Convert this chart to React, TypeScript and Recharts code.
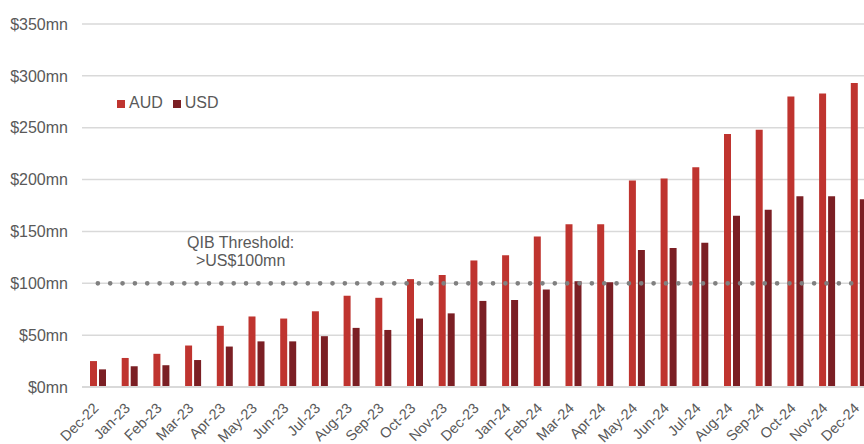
import { ComposedChart, Bar, XAxis, YAxis, CartesianGrid, Legend, ReferenceLine, ReferenceDot } from 'recharts';

const months = [
  'Dec-22', 'Jan-23', 'Feb-23', 'Mar-23', 'Apr-23', 'May-23', 'Jun-23', 'Jul-23', 'Aug-23',
  'Sep-23', 'Oct-23', 'Nov-23', 'Dec-23', 'Jan-24', 'Feb-24', 'Mar-24', 'Apr-24', 'May-24',
  'Jun-24', 'Jul-24', 'Aug-24', 'Sep-24', 'Oct-24', 'Nov-24', 'Dec-24',
];
const aud = [25, 28, 32, 40, 59, 68, 66, 73, 88, 86, 104, 108, 122, 127, 145, 157, 157, 199, 201, 212, 244, 248, 280, 283, 293];
const usd = [17, 20, 21, 26, 39, 44, 44, 49, 57, 55, 66, 71, 83, 84, 94, 102, 101, 132, 134, 139, 165, 171, 184, 184, 181];
const yTicks = [0, 50, 100, 150, 200, 250, 300, 350];
const threshold = 100;

const data = months.map((m, i) => ({ month: m, AUD: aud[i], USD: usd[i] }));

const grey = '#595959';

function MonthTick(props: any) {
  const { x, y, payload } = props;
  const tx = x + 1.5;
  const ty = y + 22;
  return (
    <text x={tx} y={ty} textAnchor="end" fill={grey} fontSize={14.5} transform={`rotate(-45, ${tx}, ${ty})`}>
      {payload.value}
    </text>
  );
}

function ThresholdLabel(props: any) {
  const { viewBox } = props;
  const cx = viewBox.x + viewBox.width / 2 + 16;
  const cy = viewBox.y + viewBox.height / 2;
  return (
    <text textAnchor="middle" fill={grey} fontSize={16}>
      <tspan x={cx} y={cy - 35}>QIB Threshold:</tspan>
      <tspan x={cx} y={cy - 17}>&gt;US$100mn</tspan>
    </text>
  );
}

export default function App() {
  return (
    <div style={{ position: 'absolute', left: 0, top: 0, width: 864, height: 444, overflow: 'hidden', fontFamily: '"Liberation Sans", Arial, sans-serif' }}>
      <ComposedChart
        width={880}
        height={444}
        data={data}
        margin={{ top: 24, right: 5.5, left: 0, bottom: 0 }}
        barGap={2}
      >
        <CartesianGrid vertical={false} stroke="#d9d9d9" strokeWidth={1.5} />
        <XAxis
          dataKey="month"
          height={57}
          interval={0}
          tick={<MonthTick />}
          tickLine={false}
          tickSize={0}
          tickMargin={0}
          axisLine={{ stroke: '#d9d9d9', strokeWidth: 2 }}
        />
        <YAxis
          width={82}
          domain={[0, 350]}
          ticks={yTicks}
          tickFormatter={(v) => `$${v}mn`}
          axisLine={false}
          tickLine={false}
          tickSize={0}
          tickMargin={14}
          tick={{ fill: grey, fontSize: 16 }}
        />
        <Legend
          layout="horizontal"
          align="center"
          verticalAlign="middle"
          iconType="square"
          iconSize={8}
          wrapperStyle={{ left: 117, top: 94, width: 'auto', fontSize: 16 }}
          formatter={(v) => <span style={{ color: grey }}>{v}</span>}
        />
        <Bar dataKey="AUD" name="AUD" fill="#bf342f" barSize={7} isAnimationActive={false} />
        <Bar dataKey="USD" name="USD" fill="#7b1f24" barSize={7} isAnimationActive={false} />
        <ReferenceLine
          segment={[{ x: months[0], y: threshold }, { x: months[months.length - 1], y: threshold }]}
          stroke="#808080"
          strokeWidth={4.7}
          strokeDasharray="0 12.35"
          strokeLinecap="round"
        />
        <ReferenceDot x="Apr-23" y={threshold} r={0} fill="none" stroke="none" label={<ThresholdLabel />} />
      </ComposedChart>
    </div>
  );
}
